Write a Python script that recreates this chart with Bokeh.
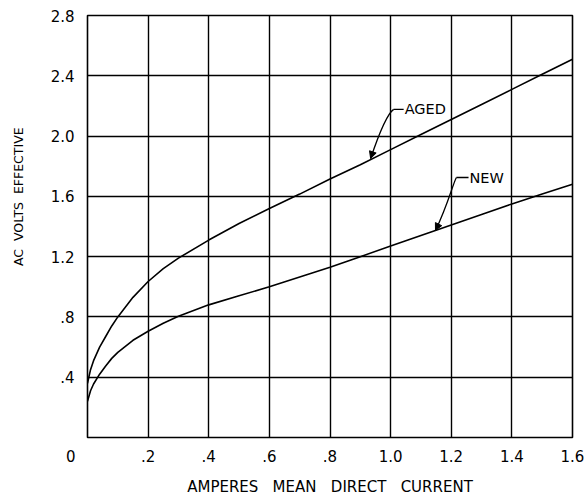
from bokeh.plotting import figure
from bokeh.models import Range1d, FixedTicker, Label, Arrow, NormalHead
from bokeh.embed import file_html
from bokeh.resources import INLINE

# ---- data ----
aged_x = [0, 0.01, 0.02, 0.04, 0.06, 0.08, 0.1, 0.15, 0.2, 0.25, 0.3, 0.4, 0.5, 0.6,
          0.7, 0.8, 0.9, 1.0, 1.1, 1.2, 1.3, 1.4, 1.5, 1.6]
aged_y = [0.36, 0.45, 0.51, 0.60, 0.67, 0.74, 0.80, 0.93, 1.035, 1.12, 1.19, 1.31, 1.42, 1.52,
          1.615, 1.715, 1.81, 1.91, 2.01, 2.11, 2.21, 2.31, 2.41, 2.51]
new_x = [0, 0.01, 0.02, 0.04, 0.06, 0.08, 0.1, 0.15, 0.2, 0.25, 0.3, 0.4, 0.5, 0.6,
         0.7, 0.8, 0.9, 1.0, 1.1, 1.2, 1.3, 1.4, 1.5, 1.6]
new_y = [0.24, 0.31, 0.355, 0.42, 0.475, 0.525, 0.565, 0.645, 0.705, 0.758, 0.805, 0.88, 0.94, 1.00,
         1.065, 1.13, 1.20, 1.27, 1.34, 1.41, 1.48, 1.55, 1.615, 1.68]

NB = "\u00a0"
x_ticks = [0, 0.2, 0.4, 0.6, 0.8, 1.0, 1.2, 1.4, 1.6]
x_tick_labels = ["0" + NB * 7, ".2", ".4", ".6", ".8", "1.0", "1.2", "1.4", "1.6"]
y_ticks = [0, 0.4, 0.8, 1.2, 1.6, 2.0, 2.4, 2.8]
y_tick_labels = ["", ".4", ".8", "1.2", "1.6", "2.0", "2.4", "2.8"]

FONT = "DejaVu Sans"

p = figure(width=585, height=496, output_backend="svg", toolbar_location=None,
           x_range=Range1d(0, 1.6), y_range=Range1d(0, 2.8),
           min_border_left=87, min_border_right=13, min_border_top=15, min_border_bottom=59,
           frame_width=485, frame_height=422)
p.background_fill_color = "white"
p.border_fill_color = "white"
p.outline_line_color = "black"
p.outline_line_width = 1.6

for g in (p.xgrid, p.ygrid):
    g.grid_line_color = "black"
    g.grid_line_width = 1.4
p.xgrid.ticker = FixedTicker(ticks=x_ticks)
p.ygrid.ticker = FixedTicker(ticks=y_ticks)

p.xaxis.ticker = FixedTicker(ticks=x_ticks)
p.yaxis.ticker = FixedTicker(ticks=y_ticks)
p.xaxis.major_label_overrides = dict(zip(x_ticks, x_tick_labels))
p.yaxis.major_label_overrides = dict(zip(y_ticks, y_tick_labels))

for ax in (p.xaxis[0], p.yaxis[0]):
    ax.axis_line_color = None
    ax.major_tick_line_color = None
    ax.minor_tick_line_color = None
    ax.major_tick_out = 0
    ax.major_tick_in = 0
    ax.major_label_text_font = FONT
    ax.major_label_text_font_size = "15px"
    ax.major_label_text_color = "black"
    ax.axis_label_text_font = FONT
    ax.axis_label_text_font_style = "normal"
    ax.axis_label_text_color = "black"

p.xaxis.axis_label = (NB * 3).join(["AMPERES", "MEAN", "DIRECT", "CURRENT"])
p.yaxis.axis_label = NB * 15 + (NB * 2).join(["AC", "VOLTS", "EFFECTIVE"])
p.xaxis.axis_label_text_font_size = "15px"
p.yaxis.axis_label_text_font_size = "12.5px"
p.xaxis.major_label_standoff = 10
p.yaxis.major_label_standoff = 13
p.xaxis.axis_label_standoff = 9
p.yaxis.axis_label_standoff = 22

p.line(aged_x, aged_y, line_color="black", line_width=1.6)
p.line(new_x, new_y, line_color="black", line_width=1.6)

# ---- leader arrows and labels ----
def leader(x0, y0, cx0, cy0, cx1, cy1, xt, yt, tick_end, text):
    p.bezier(x0=[x0], y0=[y0], cx0=[cx0], cy0=[cy0], cx1=[cx1], cy1=[cy1], x1=[xt], y1=[yt],
             line_color="black", line_width=1.3)
    p.segment(x0=[x0], y0=[y0], x1=[tick_end], y1=[y0], line_color="black", line_width=1.3)
    p.add_layout(Arrow(x_start=cx1, y_start=cy1, x_end=xt, y_end=yt, line_alpha=0,
                       end=NormalHead(size=7, fill_color="black", line_color="black", line_width=1)))
    p.add_layout(Label(x=tick_end, y=y0, text=text, x_offset=1, text_baseline="middle",
                       text_align="left", text_font=FONT, text_font_size="14.5px",
                       text_color="black"))

leader(1.010, 2.177, 0.990, 2.150, 0.963, 2.024, 0.934, 1.851, 1.043, "AGED")
leader(1.217, 1.725, 1.207, 1.692, 1.188, 1.539, 1.148, 1.374, 1.257, "NEW")

open("out.html", "w").write(file_html(p, INLINE))
